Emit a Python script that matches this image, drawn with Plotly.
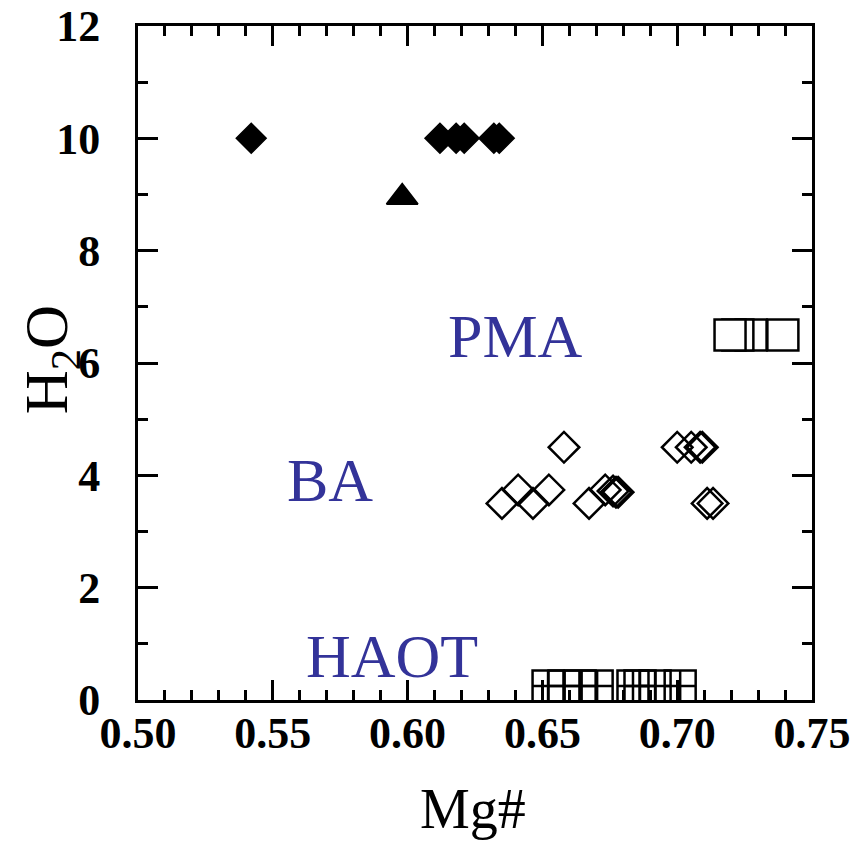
import plotly.graph_objects as go

# ---- data ----
filled_diamond_x = [0.542, 0.612, 0.618, 0.621, 0.632, 0.634]
filled_diamond_y = [10, 10, 10, 10, 10, 10]

triangle_x = [0.598]
triangle_y = [8.95]

open_diamond_x = [0.658, 0.635, 0.641, 0.6465, 0.6524, 0.6673, 0.6733, 0.6762, 0.6773,
                  0.6781, 0.7000, 0.7052, 0.7085, 0.7093, 0.7111, 0.7133]
open_diamond_y = [4.5, 3.5, 3.74, 3.5, 3.74, 3.5, 3.74, 3.72, 3.7,
                  3.7, 4.5, 4.5, 4.5, 4.5, 3.5, 3.5]

open_square_x = [0.7274, 0.7225, 0.7196, 0.7392]
open_square_y = [6.5, 6.5, 6.5, 6.5]

cross_square_x = [0.6521, 0.6580, 0.6640, 0.6703, 0.6836, 0.6862, 0.6918, 0.7011]
cross_square_y = [0.25, 0.25, 0.25, 0.25, 0.25, 0.25, 0.25, 0.25]

region_labels = ["PMA", "BA", "HAOT"]
region_x = [0.6399, 0.5712, 0.5942]
region_y = [6.48, 3.92, 0.78]

x_ticks = [0.50, 0.55, 0.60, 0.65, 0.70, 0.75]
x_tick_text = ["0.50", "0.55", "0.60", "0.65", "0.70", "0.75"]
y_ticks = [0, 2, 4, 6, 8, 10, 12]

x_title = "Mg#"
y_title = "H<sub>2</sub>O"

SERIF = "Liberation Serif, Times New Roman, serif"

fig = go.Figure()

fig.add_trace(go.Scatter(
    x=cross_square_x, y=cross_square_y, mode="markers",
    marker=dict(symbol="square-cross-open", size=31, color="black",
                line=dict(color="black", width=2.5)),
    showlegend=False, hoverinfo="x+y"))

fig.add_trace(go.Scatter(
    x=open_square_x, y=open_square_y, mode="markers",
    marker=dict(symbol="square", size=31, color="white",
                line=dict(color="black", width=2.5)),
    showlegend=False, hoverinfo="x+y"))

fig.add_trace(go.Scatter(
    x=open_diamond_x, y=open_diamond_y, mode="markers",
    marker=dict(symbol="diamond-open", size=23.5, color="black",
                line=dict(color="black", width=2.5)),
    showlegend=False, hoverinfo="x+y"))

fig.add_trace(go.Scatter(
    x=filled_diamond_x, y=filled_diamond_y, mode="markers",
    marker=dict(symbol="diamond", size=23, color="black",
                line=dict(color="black", width=1.5)),
    showlegend=False, hoverinfo="x+y"))

fig.add_trace(go.Scatter(
    x=triangle_x, y=triangle_y, mode="markers",
    marker=dict(symbol="triangle-up", size=27, color="black",
                line=dict(color="black", width=2)),
    showlegend=False, hoverinfo="x+y"))

for t, x, y in zip(region_labels, region_x, region_y):
    fig.add_annotation(x=x, y=y, text=t, showarrow=False,
                       xanchor="center", yanchor="middle",
                       font=dict(family=SERIF, size=62, color="#333399"))

# axis titles as paper-anchored annotations
fig.add_annotation(xref="paper", yref="paper", x=0.497, y=-0.161, text=x_title,
                   showarrow=False, xanchor="center", yanchor="middle",
                   font=dict(family=SERIF, size=56, color="black"))
fig.add_annotation(xref="paper", yref="paper", x=-0.129, y=0.504, text=y_title,
                   textangle=-90, showarrow=False, xanchor="center", yanchor="middle",
                   font=dict(family=SERIF, size=61, color="black"))

axis_common = dict(
    showline=True, linecolor="black", linewidth=3, mirror="ticks",
    ticks="inside", ticklen=20, tickwidth=3, tickcolor="black",
    showgrid=False, zeroline=False, automargin=False,
    tickfont=dict(family=SERIF, size=44, color="black", weight="bold"),
)

fig.update_xaxes(
    range=[0.5, 0.75], tickvals=x_ticks, ticktext=x_tick_text,
    minor=dict(dtick=0.01, ticklen=10, tickwidth=3, tickcolor="black", ticks="inside"),
    ticklabelstandoff=-8,
    **axis_common)

fig.update_yaxes(
    range=[0, 12], tickvals=y_ticks,
    minor=dict(dtick=1, ticklen=10, tickwidth=3, tickcolor="black", ticks="inside"),
    ticklabelstandoff=26,
    **axis_common)

fig.update_layout(
    width=853, height=842,
    margin=dict(l=138, r=41, t=26, b=142, pad=0),
    plot_bgcolor="white", paper_bgcolor="white",
)

fig.write_html("out.html")
